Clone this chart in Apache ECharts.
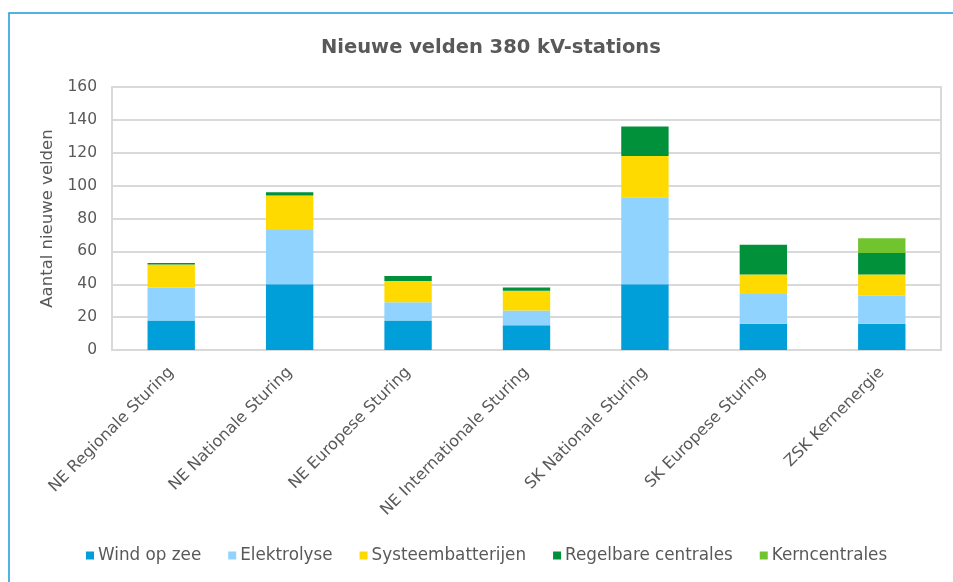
<!DOCTYPE html>
<html>
<head>
<meta charset="UTF-8">
<title>Nieuwe velden 380 kV-stations</title>
<script type="text/javascript" src="https://cdn.jsdelivr.net/npm/echarts@6/dist/echarts.min.js"></script>
<style>
body{margin:0;background:#fff;}
</style>
</head>
<body>
<div id="mychar" style="width:953px;height:582px;"></div>

<script type="text/javascript">

var categories=['NE Regionale Sturing','NE Nationale Sturing','NE Europese Sturing','NE Internationale Sturing','SK Nationale Sturing','SK Europese Sturing','ZSK Kernenergie'];
var windOpZee=[18,40,18,15,40,16,16];
var elektrolyse=[20,33,11,9,53,18,17];
var systeembatterijen=[14,21,13,12,25,12,13];
var regelbare=[1,2,3,2,18,18,13];
var kerncentrales=[0,0,0,0,0,0,9];
var yTicks=[0,20,40,60,80,100,120,140,160];

var font='"DejaVu Sans", sans-serif';
var txt='#595959';

var mychart=echarts.init(document.getElementById('mychar'));

function serie(name,data,color){
  return {
    name:name,
    type:'bar',
    stack:'totaal',
    barWidth:'40%',
    data:data,
    itemStyle:{color:color}
  };
}

var option={
  animation:false,
  textStyle:{fontFamily:font},
  title:{
    text:'Nieuwe velden 380 kV-stations',
    left:316,
    top:33,
    textStyle:{fontFamily:font,fontSize:19.5,fontWeight:'bold',color:txt}
  },
  graphic:[{
    type:'rect',
    shape:{x:9,y:13,width:1000,height:620},
    style:{fill:'none',stroke:'#1a9bd7',lineWidth:1.5},
    silent:true
  }],
  legend:{
    bottom:13,
    left:81,
    itemWidth:8,
    itemHeight:8,
    itemGap:27,
    icon:'rect',
    textStyle:{fontFamily:font,fontSize:16.8,color:txt,padding:[0,0,0,-1]},
    data:['Wind op zee','Elektrolyse','Systeembatterijen','Regelbare centrales','Kerncentrales']
  },
  grid:{
    left:112,
    right:12,
    top:87,
    bottom:232,
    show:true,
    borderColor:'#d9d9d9',
    borderWidth:2
  },
  xAxis:{
    type:'category',
    data:categories,
    axisLine:{show:false},
    axisTick:{show:false},
    axisLabel:{rotate:45,margin:20,fontFamily:font,fontSize:16,color:txt,interval:0}
  },
  yAxis:{
    type:'value',
    min:yTicks[0],
    max:yTicks[yTicks.length-1],
    interval:20,
    name:'Aantal nieuwe velden',
    nameLocation:'middle',
    nameGap:56,
    nameTextStyle:{fontFamily:font,fontSize:16.5,color:txt},
    axisLine:{show:false},
    axisTick:{show:false},
    axisLabel:{fontFamily:font,fontSize:15.5,color:txt,margin:15},
    splitLine:{lineStyle:{color:'#d9d9d9',width:2}}
  },
  series:[
    serie('Wind op zee',windOpZee,'#009fda'),
    serie('Elektrolyse',elektrolyse,'#8fd3fe'),
    serie('Systeembatterijen',systeembatterijen,'#ffda00'),
    serie('Regelbare centrales',regelbare,'#00913a'),
    serie('Kerncentrales',kerncentrales,'#72c42e')
  ]
};

mychart.setOption(option);
</script>
</body>
</html>
